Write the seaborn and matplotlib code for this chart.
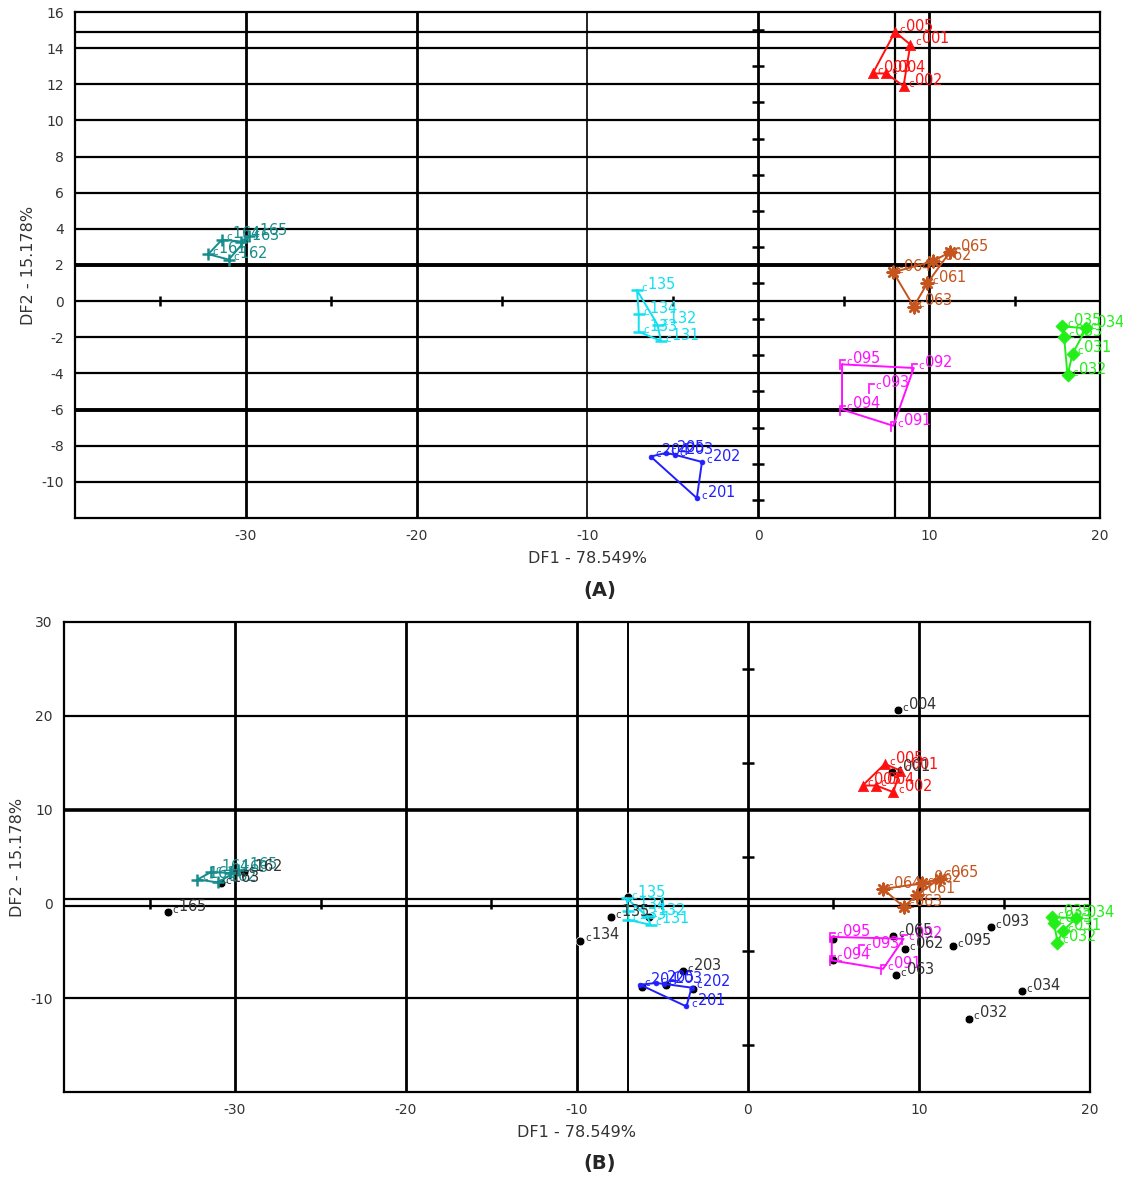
import numpy as np
import pandas as pd
import matplotlib
matplotlib.use("Agg")
import matplotlib.pyplot as plt
import seaborn as sns

# Group centroid plots (same groups in both panels), listed in outline order
red_ids = ["005", "003", "004", "002", "001"]
red_x = [8.0, 6.7, 7.5, 8.5, 8.9]
red_y = [14.9, 12.6, 12.6, 11.9, 14.2]

teal_ids = ["161", "164", "163", "165", "162"]
teal_x = [-32.2, -31.4, -30.3, -29.8, -31.0]
teal_y = [2.6, 3.4, 3.3, 3.6, 2.3]

cyan_ids = ["135", "134", "133", "131", "132"]
cyan_x = [-7.1, -7.0, -7.0, -5.7, -5.9]
cyan_y = [0.6, -0.7, -1.7, -2.2, -1.3]

brown_ids = ["064", "062", "065", "061", "063"]
brown_x = [7.9, 10.2, 11.2, 9.9, 9.1]
brown_y = [1.6, 2.2, 2.7, 1.0, -0.3]

green_ids = ["035", "034", "031", "032", "033"]
green_x = [17.8, 19.2, 18.4, 18.1, 17.9]
green_y = [-1.4, -1.5, -2.9, -4.1, -2.0]

magenta_ids = ["095", "092", "091", "094", "093"]
magenta_x = [4.9, 9.1, 7.9, 4.9, 6.6]
magenta_y = [-3.5, -3.7, -6.9, -6.0, -4.8]
magenta_outline = 4  # first four points make the outline, 093 sits inside

blue_ids = ["204", "205", "203", "202", "201"]
blue_x = [-6.3, -5.4, -4.9, -3.3, -3.6]
blue_y = [-8.6, -8.4, -8.5, -8.9, -10.9]

# Extra samples shown only in panel B (black dots)
black_ids = ["004", "001", "165", "163", "162", "135", "134", "", "", "203", "", "", "",
             "065", "062", "063", "095", "093", "034", "032", "", ""]
black_x = [8.75, 8.4, -33.9, -30.8, -29.5, -8.0, -9.8, -7.0, -5.8, -3.8, -6.2, -4.8, -3.2,
           8.5, 9.2, 8.65, 12.0, 14.2, 16.0, 12.9, 4.95, 4.95]
black_y = [20.6, 14.0, -0.9, 2.2, 3.4, -1.4, -3.9, 0.7, -1.4, -7.1, -8.8, -8.6, -9.0,
           -3.4, -4.8, -7.6, -4.5, -2.5, -9.3, -12.2, -3.7, -6.0]

groups = [
    ("red", red_ids, red_x, red_y, "#ff1010", "^", 55, None),
    ("teal", teal_ids, teal_x, teal_y, "#178c8c", "+", 70, None),
    ("cyan", cyan_ids, cyan_x, cyan_y, "#10e0f0", "_", 70, None),
    ("brown", brown_ids, brown_x, brown_y, "#c4551e", (8, 2, 0), 70, None),
    ("green", green_ids, green_x, green_y, "#22ee18", "D", 45, None),
    ("magenta", magenta_ids, magenta_x, magenta_y, "#ff10ff", r"$\Gamma$", 45, magenta_outline),
    ("blue", blue_ids, blue_x, blue_y, "#2020ff", "o", 12, None),
]

sns.set_style("white")
plt.rcParams["font.family"] = ["DejaVu Sans"]
plt.rcParams["axes.unicode_minus"] = False

fig = plt.figure(figsize=(11.23, 11.78), dpi=100)
ax_a = fig.add_axes([0.0668, 0.5603, 0.9127, 0.4295])
ax_b = fig.add_axes([0.057, 0.073, 0.9136, 0.399])


def label_points(ax, ids, xs, ys, color):
    for i, x, y in zip(ids, xs, ys):
        if not i:
            continue
        ax.annotate(r"$\mathregular{_c}$" + i, (x, y), xytext=(3, 4), textcoords="offset points",
                    color=color, fontsize=10.5, va="center", ha="left", zorder=6,
                    annotation_clip=False)


def draw_groups(ax):
    for name, ids, xs, ys, color, marker, size, n_out in groups:
        n = len(ids) if n_out is None else n_out
        px = list(xs[:n]) + [xs[0]]
        py = list(ys[:n]) + [ys[0]]
        ax.plot(px, py, color=color, lw=1.4, zorder=4)
        df = pd.DataFrame({"x": xs, "y": ys})
        sns.scatterplot(data=df, x="x", y="y", ax=ax, color=color, marker=marker, s=size,
                        linewidth=1.8 if marker in ("+", "_", (8, 2, 0)) else 0.5,
                        edgecolor=color, zorder=5, legend=False)
        label_points(ax, ids, xs, ys, color)


def style_axes(ax, xlim, ylim, yticks, vlines, hlines, vtick_ys, htick_xs):
    ax.set_xlim(*xlim)
    ax.set_ylim(*ylim)
    ax.set_xticks([-30, -20, -10, 0, 10, 20])
    ax.set_yticks(yticks)
    for v, lw in vlines:
        ax.axvline(v, color="black", lw=lw, zorder=1)
    for h, lw in hlines:
        ax.axhline(h, color="black", lw=lw, zorder=1)
    # small ticks along the centre axes
    ax.plot(np.zeros(len(vtick_ys)), vtick_ys, ls="none", marker="_", ms=8, mew=1.8,
            color="black", zorder=2)
    ax.plot(htick_xs, np.zeros(len(htick_xs)), ls="none", marker="|", ms=7, mew=1.8,
            color="black", zorder=2)
    for s in ax.spines.values():
        s.set_color("black")
        s.set_linewidth(1.6)
    ax.tick_params(length=0, pad=8, labelsize=10, labelcolor="#333333")
    ax.set_xlabel("DF1 - 78.549%", fontsize=11.5, color="#333333", labelpad=6)
    ax.set_ylabel("DF2 - 15.178%", fontsize=11.5, color="#333333", labelpad=4)


# Panel A
style_axes(ax_a, (-40, 20), (-12, 16), list(range(-10, 17, 2)),
           [(-30, 2.0), (-20, 2.0), (-10, 1.2), (0, 2.0), (8, 1.6), (10, 2.0)],
           [(h, 2.8 if h in (2, -6) else 1.6) for h in range(-10, 15, 2)] + [(14.9, 1.6)],
           np.arange(-11, 16, 2), [-35, -25, -15, -5, 5, 15])
draw_groups(ax_a)

# Panel B
style_axes(ax_b, (-40, 20), (-20, 30), [-10, 0, 10, 20, 30],
           [(-30, 2.0), (-20, 2.0), (-10, 2.0), (-7, 1.4), (0, 2.0), (10, 2.0)],
           [(20, 1.6), (10, 2.6), (0.5, 1.6), (-0.2, 1.6), (-10, 1.6)],
           [-15, -5, 5, 15, 25], [-35, -25, -15, -5, 5, 15])
draw_groups(ax_b)
df_black = pd.DataFrame({"x": black_x, "y": black_y})
sns.scatterplot(data=df_black, x="x", y="y", ax=ax_b, color="black", s=40, zorder=3, legend=False)
label_points(ax_b, black_ids, black_x, black_y, "#333333")

fig.text(0.534, 0.499, "(A)", ha="center", va="center", fontsize=14, fontweight="bold")
fig.text(0.534, 0.012, "(B)", ha="center", va="center", fontsize=14, fontweight="bold")

fig.savefig("out.png", dpi=100)
